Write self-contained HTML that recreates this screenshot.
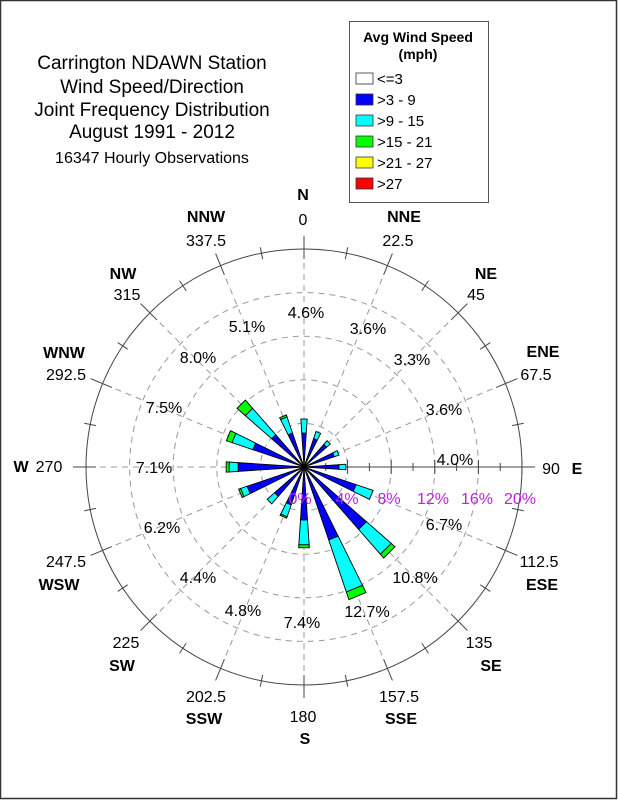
<!DOCTYPE html>
<html><head><meta charset="utf-8"><style>
html,body{margin:0;padding:0;background:#fff;}
svg{display:block;font-family:"Liberation Sans",Arial,sans-serif;}
</style></head><body>
<svg id="s" width="618" height="800" viewBox="0 0 618 800" xmlns="http://www.w3.org/2000/svg">
<rect x="0.5" y="0.5" width="616" height="798" fill="#fff" stroke="#333" stroke-width="1.5"/>
<g font-size="19" text-anchor="middle" fill="#000">
<text x="152" y="69">Carrington NDAWN Station</text>
<text x="152" y="93">Wind Speed/Direction</text>
<text x="152" y="116">Joint Frequency Distribution</text>
<text x="152" y="138">August 1991 - 2012</text>
<text x="152" y="163" font-size="16">16347 Hourly Observations</text>
</g>
<rect x="349.5" y="21.5" width="139" height="181" fill="#fff" stroke="#555" stroke-width="1"/>
<g font-size="14" font-weight="bold" text-anchor="middle"><text x="418" y="42">Avg Wind Speed</text><text x="418" y="59">(mph)</text></g>
<g stroke="#333" stroke-width="0.8">
<rect x="356" y="73" width="17" height="11" fill="#fff"/>
<rect x="356" y="94" width="17" height="11" fill="#0000ff"/>
<rect x="356" y="115" width="17" height="11" fill="#00ffff"/>
<rect x="356" y="136" width="17" height="11" fill="#00ff00"/>
<rect x="356" y="157" width="17" height="11" fill="#ffff00"/>
<rect x="356" y="178" width="17" height="11" fill="#ff0000"/>
</g>
<g font-size="15"><text x="377" y="84">&lt;=3</text><text x="377" y="105">&gt;3 - 9</text><text x="377" y="126">&gt;9 - 15</text><text x="377" y="147">&gt;15 - 21</text><text x="377" y="168">&gt;21 - 27</text><text x="377" y="189">&gt;27</text></g>
<g id="grid" fill="none" stroke="#999" stroke-width="1" stroke-dasharray="6,5">
<circle cx="304" cy="467" r="43.6"/><circle cx="304" cy="467" r="87.2"/><circle cx="304" cy="467" r="130.8"/><circle cx="304" cy="467" r="174.4"/>
</g>
<circle cx="304" cy="467" r="218" fill="none" stroke="#444" stroke-width="1"/>
<g id="rad"></g>
<g id="bars"></g>
<g font-size="16" text-anchor="middle" fill="#000">
<text x="306" y="318">4.6%</text><text x="247" y="332">5.1%</text><text x="368" y="334">3.6%</text>
<text x="198" y="363">8.0%</text><text x="412" y="365">3.3%</text><text x="164" y="413">7.5%</text>
<text x="444" y="415">3.6%</text><text x="154" y="473">7.1%</text><text x="455" y="465">4.0%</text>
<text x="444" y="530">6.7%</text><text x="162" y="533">6.2%</text><text x="415" y="583">10.8%</text>
<text x="198" y="583">4.4%</text><text x="367" y="617">12.7%</text><text x="243" y="616">4.8%</text>
<text x="302" y="628">7.4%</text>
</g>
<g font-size="16" text-anchor="middle" fill="#bb22dd">
<text x="300" y="504">0%</text><text x="347" y="504">4%</text><text x="389" y="504">8%</text><text x="433" y="504">12%</text><text x="477" y="504">16%</text><text x="520" y="504">20%</text>
</g>
<g font-size="16" text-anchor="middle" fill="#000">
<text x="303" y="225">0</text><text x="398" y="246">22.5</text><text x="476" y="300">45</text><text x="536" y="380">67.5</text>
<text x="551" y="474">90</text><text x="539" y="567">112.5</text><text x="479" y="648">135</text><text x="399" y="702">157.5</text>
<text x="303" y="722">180</text><text x="206" y="702">202.5</text><text x="126" y="648">225</text><text x="66" y="567">247.5</text>
<text x="49" y="472">270</text><text x="66" y="380">292.5</text><text x="127" y="300">315</text><text x="206" y="246">337.5</text>
</g>
<g font-size="16" font-weight="bold" text-anchor="middle" fill="#000">
<text x="303" y="200">N</text><text x="404" y="222">NNE</text><text x="486" y="279">NE</text><text x="543" y="357">ENE</text>
<text x="577" y="474">E</text><text x="542" y="590">ESE</text><text x="491" y="671">SE</text><text x="401" y="724">SSE</text>
<text x="305" y="744">S</text><text x="204" y="724">SSW</text><text x="122" y="671">SW</text><text x="59" y="590">WSW</text>
<text x="21" y="472">W</text><text x="64" y="358">WNW</text><text x="123" y="279">NW</text><text x="206" y="222">NNW</text>
</g>
</svg>
<script>
var NS="http://www.w3.org/2000/svg",cx=304,cy=467;
function P(r,a){var t=a*Math.PI/180;return [cx+r*Math.sin(t),cy-r*Math.cos(t)];}
function el(n,at,p){var e=document.createElementNS(NS,n);for(var k in at)e.setAttribute(k,at[k]);p.appendChild(e);return e;}
var rad=document.getElementById('rad');
for(var i=0;i<32;i++){var a=i*11.25;
 if(i%2==0){
  if(a!=90){var p0=P(0,a),p1=P(208,a);el('line',{x1:p0[0],y1:p0[1],x2:p1[0],y2:p1[1],stroke:'#999','stroke-dasharray':'6,5'},rad);}
  var q0=P(208,a),q1=P(231,a);el('line',{x1:q0[0],y1:q0[1],x2:q1[0],y2:q1[1],stroke:'#444'},rad);
 } else {var q0=P(212,a),q1=P(224,a);el('line',{x1:q0[0],y1:q0[1],x2:q1[0],y2:q1[1],stroke:'#444'},rad);}
}
el('line',{x1:cx,y1:cy,x2:535,y2:cy,stroke:'#444'},rad);
for(var k=1;k<=10;k++){var x=cx+k*21.8,h=(k%2==0)?7:4;el('line',{x1:x,y1:cy-h,x2:x,y2:cy+h,stroke:'#444'},rad);}
var data=[[34,48],[30,37.5],[30,35],[32,37],[35,42],[55,73],[83,116,121],[77,132,140],[53,78,81],[40,52.5,54],[39,49],[60,67,69],[66,75,78],[54,76,82],[43,78,89],[36,53,55]];
var cols=['#0000ff','#00ffff','#00ff00'],h=3.8,bars=document.getElementById('bars');
data.forEach(function(d,i){var a=i*22.5,r0=0;
 d.forEach(function(r1,j){var pts=[P(r0,a-h),P(r1,a-h),P(r1,a+h),P(r0,a+h)].map(function(p){return p[0].toFixed(2)+','+p[1].toFixed(2)}).join(' ');
  el('polygon',{points:pts,fill:cols[j],stroke:'#000','stroke-width':'0.9','stroke-linejoin':'miter'},bars);r0=r1;});
});
el('circle',{cx:cx,cy:cy,r:3,fill:'#000'},bars);
</script>
</body></html>
